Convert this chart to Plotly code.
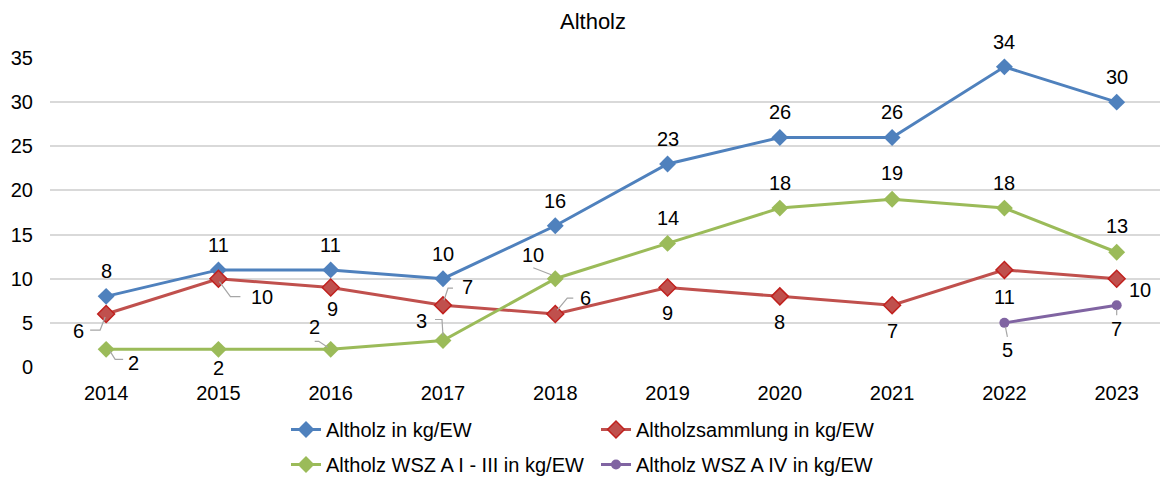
import plotly.graph_objects as go

years = ["2014", "2015", "2016", "2017", "2018", "2019", "2020", "2021", "2022", "2023"]
altholz = [8, 11, 11, 10, 16, 23, 26, 26, 34, 30]
sammlung = [6, 10, 9, 7, 6, 9, 8, 7, 11, 10]
wsz_1_3 = [2, 2, 2, 3, 10, 14, 18, 19, 18, 13]
wsz_4 = [None, None, None, None, None, None, None, None, 5, 7]

names = ["Altholz in kg/EW", "Altholzsammlung in kg/EW",
         "Altholz WSZ A I - III in kg/EW", "Altholz WSZ A IV in kg/EW"]
y_ticks = [0, 5, 10, 15, 20, 25, 30, 35]

FONT = "Liberation Sans, Arial, sans-serif"
BLUE, RED, GREEN, PURPLE = "#4F81BD", "#C0504D", "#9BBB59", "#8064A2"

# page is drawn with an 8px body margin; figure sized to the visible area
W, H = 1160, 469

# label offsets (px; dy positive = up) per point
off_blue = [(0, 25)] * 10
off_red = [(-28, -17), (44, -18), (2, -21), (25, 18), (30, 16),
           (0, -25), (0, -26), (0, -26), (0, -27), (23, -11)]
off_green = [(27, -14), (0, -19), (-16, 22), (-21, 20), (-22, 24),
             (0, 25), (0, 25), (0, 26), (0, 25), (0, 26)]
off_purple = [None] * 8 + [(3, -27), (0, -24)]

# leader line paths relative to point (px, y up)
leaders = [
    (sammlung, 0, [(-16, -16), (-6, -16), (-1, -3)]),
    (sammlung, 1, [(1, -3), (12, -18), (22, -18)]),
    (sammlung, 3, [(10, 17), (5, 17), (1, 5)]),
    (sammlung, 4, [(18, 16), (12, 16), (2, 4)]),
    (wsz_1_3, 0, [(4, -2), (9, -10), (17, -10)]),
    (wsz_1_3, 2, [(-16, 8), (-12, 8), (-3, 2)]),
    (wsz_1_3, 3, [(-8, 21), (-1, 21), (0, 5)]),
    (wsz_1_3, 4, [(-22, 11), (-4, 4)]),
    (wsz_4, 8, [(1, -4), (3, -14)]),
    (wsz_4, 9, [(0, -4), (0, -10)]),
]

fig = go.Figure()
fig.add_trace(go.Scatter(x=years, y=altholz, name=names[0], mode="lines+markers",
                         line=dict(color=BLUE, width=3),
                         marker=dict(symbol="diamond", size=13, color=BLUE),
                         legend="legend"))
fig.add_trace(go.Scatter(x=years, y=sammlung, name=names[1], mode="lines+markers",
                         line=dict(color=RED, width=3),
                         marker=dict(symbol="diamond", size=13, color=RED,
                                     line=dict(color="#C0211E", width=1.5)),
                         legend="legend"))
fig.add_trace(go.Scatter(x=years, y=wsz_1_3, name=names[2], mode="lines+markers",
                         line=dict(color=GREEN, width=3),
                         marker=dict(symbol="diamond", size=13, color=GREEN),
                         legend="legend2"))
fig.add_trace(go.Scatter(x=years, y=wsz_4, name=names[3], mode="lines+markers",
                         line=dict(color=PURPLE, width=3),
                         marker=dict(symbol="circle", size=10, color=PURPLE),
                         legend="legend2"))

annotations = []
for series, offs in [(altholz, off_blue), (sammlung, off_red),
                     (wsz_1_3, off_green), (wsz_4, off_purple)]:
    for i, v in enumerate(series):
        if v is None or offs[i] is None:
            continue
        dx, dy = offs[i]
        annotations.append(dict(x=i, y=v, xref="x", yref="y", text=str(v),
                                showarrow=False, xshift=dx, yshift=dy,
                                font=dict(family=FONT, size=20, color="#000000")))

shapes = []
for series, i, pts in leaders:
    path = "M" + " L".join(f"{px},{py}" for px, py in pts)
    shapes.append(dict(type="path", xref="x", yref="y",
                       xsizemode="pixel", ysizemode="pixel",
                       xanchor=i, yanchor=series[i], path=path,
                       line=dict(color="#A6A6A6", width=1.2)))

fig.update_layout(
    width=W, height=H,
    margin=dict(l=42, r=0, t=50, b=110),
    paper_bgcolor="white", plot_bgcolor="white",
    font=dict(family=FONT, size=20, color="#000000"),
    title=dict(text="Altholz", x=585 / W, xanchor="center",
               y=1 - 13 / H, yanchor="middle",
               font=dict(family=FONT, size=22, color="#000000")),
    xaxis=dict(type="category", range=[-0.5, 9.457], showgrid=False,
               zeroline=False, showline=False, ticks="",
               ticklabelstandoff=12, tickfont=dict(size=20)),
    yaxis=dict(range=[0, 35], tickvals=y_ticks, showgrid=True,
               gridcolor="#D9D9D9", gridwidth=1.5, zeroline=False,
               showline=False, ticks="", ticklabelstandoff=16,
               tickfont=dict(size=20)),
    legend=dict(orientation="h", xref="container", yref="container",
                x=278 / W, y=1 - 402 / H, xanchor="left", yanchor="top",
                entrywidth=265, entrywidthmode="pixels",
                font=dict(family=FONT, size=20, color="#000000"),
                bgcolor="rgba(0,0,0,0)", itemwidth=30),
    legend2=dict(orientation="h", xref="container", yref="container",
                 x=278 / W, y=1 - 437 / H, xanchor="left", yanchor="top",
                 entrywidth=265, entrywidthmode="pixels",
                 font=dict(family=FONT, size=20, color="#000000"),
                 bgcolor="rgba(0,0,0,0)", itemwidth=30),
    annotations=annotations,
    shapes=shapes,
    showlegend=True,
)

fig.write_html("out.html")
